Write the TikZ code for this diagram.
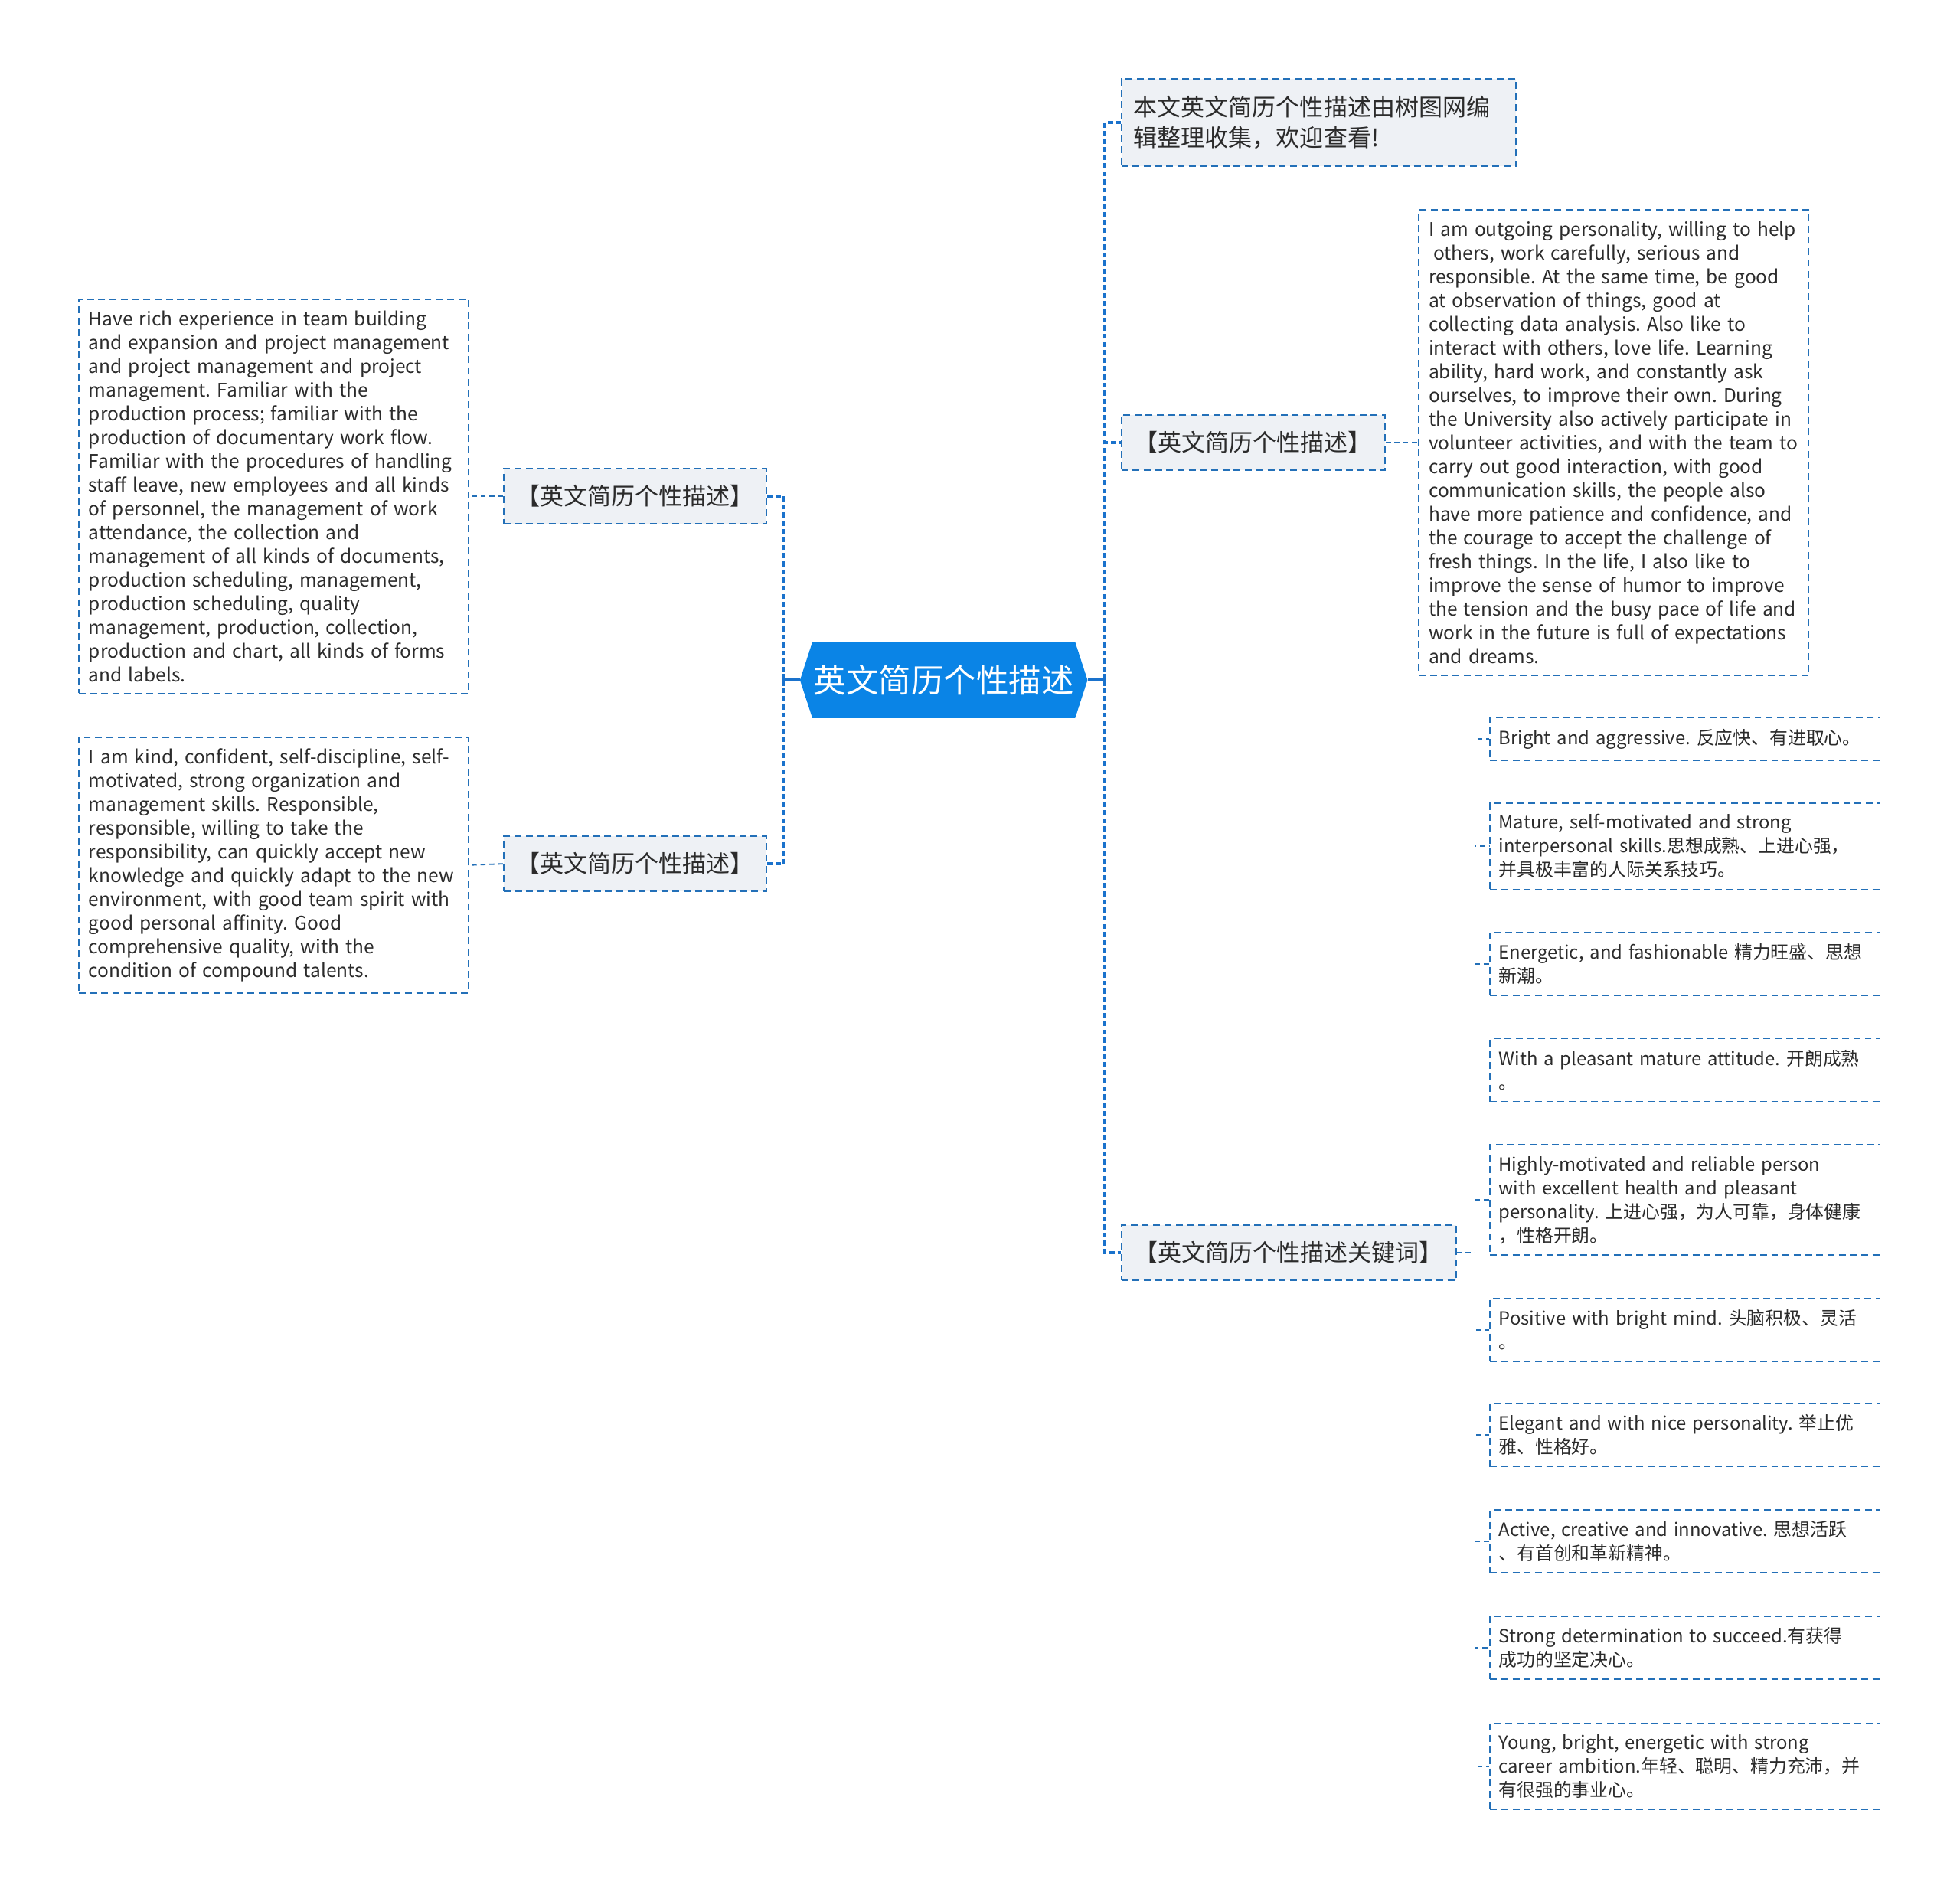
\documentclass[tikz,border=0pt]{standalone}
\usepackage{fontspec}
\setmainfont{Noto Sans CJK SC}
\usetikzlibrary{shapes.symbols}

\definecolor{rootblue}{HTML}{0A84E6}
\definecolor{lineblue}{HTML}{2370B8}
\definecolor{trunkblue}{HTML}{1A72CC}
\definecolor{boxgray}{HTML}{EEF1F5}
\definecolor{inkgray}{HTML}{2B2B2B}

\tikzset{
  rootnode/.style={signal, signal to=west and east, signal pointer angle=144,
    fill=rootblue, text=white, font=\fontsize{26}{30}\selectfont,
    minimum width=230pt, minimum height=61pt, inner sep=0pt},
  topicbox/.style={draw=lineblue, fill=boxgray, line width=1.2pt,
    dash pattern=on 5.5pt off 3.5pt, text=inkgray,
    font=\fontsize{19}{25}\selectfont, minimum height=44pt, inner sep=0pt},
  notebox/.style={draw=lineblue, fill=white, line width=1.1pt,
    dash pattern=on 5.5pt off 3.5pt, text=inkgray,
    font=\fontsize{15}{19}\selectfont\frenchspacing, align=left,
    text width=296pt, inner xsep=8pt, inner ysep=9pt},
  kwbox/.style={notebox, font=\fontsize{14.6}{19}\selectfont\frenchspacing,
    text width=298pt, inner xsep=7pt},
  trunk/.style={draw=trunkblue, line width=2.2pt, dash pattern=on 4pt off 2.5pt},
  stem/.style={draw=trunkblue, line width=2.2pt},
  twig/.style={draw=lineblue, line width=1.1pt, dash pattern=on 4pt off 3pt},
}

\begin{document}
\begin{tikzpicture}[x=1pt,y=-1pt]
\fill[white] (0,0) rectangle (1568,1513);
\useasboundingbox (0,0) rectangle (1568,1513);

% centre
\node[rootnode] (root) at (755,544) {英文简历个性描述};

% left side
\node[topicbox, minimum width=210pt] (lb1) at (508,397) {【英文简历个性描述】};
\node[topicbox, minimum width=210pt] (lb2) at (508,691) {【英文简历个性描述】};

\node[notebox] (lp1) at (219,397) {Have rich experience in team building\\
and expansion and project management\\
and project management and project\\
management. Familiar with the\\
production process; familiar with the\\
production of documentary work flow.\\
Familiar with the procedures of handling\\
staff leave, new employees and all kinds\\
of personnel, the management of work\\
attendance, the collection and\\
management of all kinds of documents,\\
production scheduling, management,\\
production scheduling, quality\\
management, production, collection,\\
production and chart, all kinds of forms\\
and labels.};

\node[notebox] (lp2) at (219,692) {I am kind, confident, self-discipline, self-\\
motivated, strong organization and\\
management skills. Responsible,\\
responsible, willing to take the\\
responsibility, can quickly accept new\\
knowledge and quickly adapt to the new\\
environment, with good team spirit with\\
good personal affinity. Good\\
comprehensive quality, with the\\
condition of compound talents.};

% right side
\node[topicbox, minimum width=316pt, minimum height=70pt, align=left, text width=296pt] (ra) at (1055,98) {本文英文简历个性描述由树图网编\\辑整理收集，欢迎查看!};
\node[topicbox, minimum width=211pt] (rb) at (1002.5,354) {【英文简历个性描述】};
\node[topicbox, minimum width=268pt] (rc) at (1031,1002) {【英文简历个性描述关键词】};

\node[notebox] (rp) at (1291,354) {I am outgoing personality, willing to help\\
\hspace{0.25em}others, work carefully, serious and\\
responsible. At the same time, be good\\
at observation of things, good at\\
collecting data analysis. Also like to\\
interact with others, love life. Learning\\
ability, hard work, and constantly ask\\
ourselves, to improve their own. During\\
the University also actively participate in\\
volunteer activities, and with the team to\\
carry out good interaction, with good\\
communication skills, the people also\\
have more patience and confidence, and\\
the courage to accept the challenge of\\
fresh things. In the life, I also like to\\
improve the sense of humor to improve\\
the tension and the busy pace of life and\\
work in the future is full of expectations\\
and dreams.};

% keywords
\node[kwbox] (k1) at (1348,591) {Bright and aggressive. 反应快、有进取心。};
\node[kwbox] (k2) at (1348,677) {Mature, self-motivated and strong\\interpersonal skills.思想成熟、上进心强，\\并具极丰富的人际关系技巧。};
\node[kwbox] (k3) at (1348,771) {Energetic, and fashionable 精力旺盛、思想\\新潮。};
\node[kwbox] (k4) at (1348,856) {With a pleasant mature attitude. 开朗成熟\\。};
\node[kwbox] (k5) at (1348,960) {Highly-motivated and reliable person\\with excellent health and pleasant\\personality. 上进心强，为人可靠，身体健康\\，性格开朗。};
\node[kwbox] (k6) at (1348,1064) {Positive with bright mind. 头脑积极、灵活\\。};
\node[kwbox] (k7) at (1348,1148) {Elegant and with nice personality. 举止优\\雅、性格好。};
\node[kwbox] (k8) at (1348,1233) {Active, creative and innovative. 思想活跃\\、有首创和革新精神。};
\node[kwbox] (k9) at (1348,1318) {Strong determination to succeed.有获得\\成功的坚定决心。};
\node[kwbox] (k10) at (1348,1413) {Young, bright, energetic with strong\\career ambition.年轻、聪明、精力充沛，并\\有很强的事业心。};

% connectors
\coordinate (ljoin) at (627,544);
\coordinate (rjoin) at (884,544);
\coordinate (kjoin) at (1180,1002);

\draw[stem] (root.west) -- (ljoin);
\draw[stem] ([yshift=5pt]ljoin) -- ([yshift=-5pt]ljoin);
\draw[trunk] (ljoin) |- (lb1.east);
\draw[trunk] (ljoin) |- (lb2.east);

\draw[stem] (root.east) -- (rjoin);
\draw[stem] ([yshift=5pt]rjoin) -- ([yshift=-5pt]rjoin);
\draw[trunk] (rjoin) |- (ra.west);
\draw[trunk] (rjoin) |- (rb.west);
\draw[trunk] (rjoin) |- (rc.west);

\draw[twig] (lb1.west) -- (lp1.east);
\draw[twig] (lb2.west) -- (lp2.east);
\draw[twig] (rb.east) -- (rp.west);

\draw[twig] (rc.east) -- (kjoin);
\draw[twig] (kjoin) |- (k1.west);
\draw[twig] (kjoin) |- (k2.west);
\draw[twig] (kjoin) |- (k3.west);
\draw[twig] (kjoin) |- (k4.west);
\draw[twig] (kjoin) |- (k5.west);
\draw[twig] (kjoin) |- (k6.west);
\draw[twig] (kjoin) |- (k7.west);
\draw[twig] (kjoin) |- (k8.west);
\draw[twig] (kjoin) |- (k9.west);
\draw[twig] (kjoin) |- (k10.west);
\end{tikzpicture}
\end{document}
